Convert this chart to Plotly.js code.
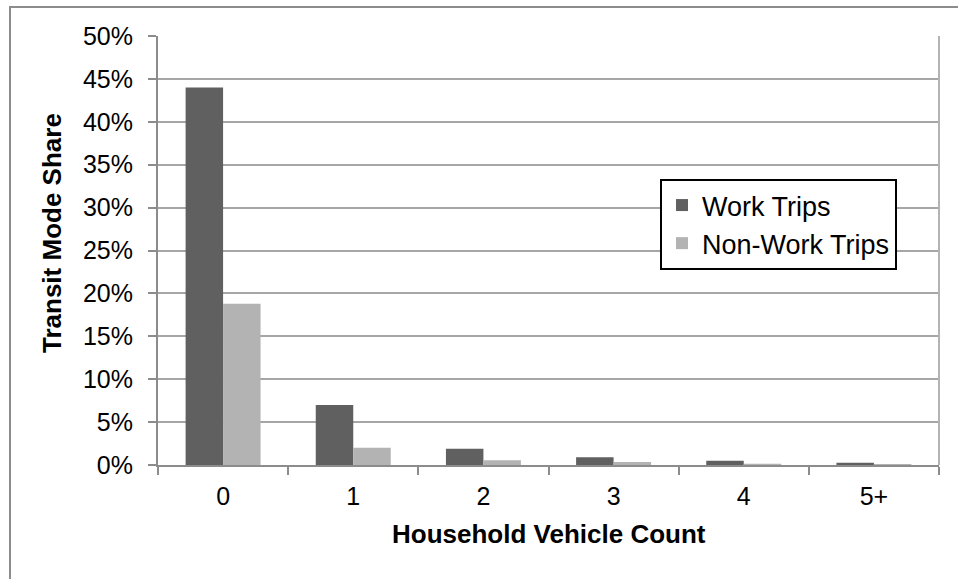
<!DOCTYPE html>
<html>
<head>
<meta charset="utf-8">
<script src="https://cdn.plot.ly/plotly-3.0.1.min.js"></script>
<style>html,body{margin:0;padding:0;background:#fff;}#chart{width:958px;height:579px;}</style>
</head>
<body>
<div id="chart"></div>
<script>
var categories = ["0", "1", "2", "3", "4", "5+"];
var workTrips = [44.0, 7.0, 1.9, 0.9, 0.5, 0.25];
var nonWorkTrips = [18.8, 2.0, 0.55, 0.35, 0.15, 0.12];
var seriesNames = ["Work Trips", "Non-Work Trips"];
var yTicks = [0, 5, 10, 15, 20, 25, 30, 35, 40, 45, 50];

var FONT = "Liberation Sans, Arial, sans-serif";

var traces = [
  {type: "bar", name: seriesNames[0], x: categories, y: workTrips,
   marker: {color: "#606060"}, hoverinfo: "none"},
  {type: "bar", name: seriesNames[1], x: categories, y: nonWorkTrips,
   marker: {color: "#b3b3b3"}, hoverinfo: "none"}
];

var layout = {
  width: 958, height: 579,
  margin: {l: 158, r: 19, t: 36, b: 114, pad: 0},
  paper_bgcolor: "#ffffff", plot_bgcolor: "#ffffff",
  font: {family: FONT, size: 25, color: "#000"},
  barmode: "group", bargap: 0.424, bargroupgap: 0,
  showlegend: true,
  legend: {x: (660 - 158) / 781, y: (465 - 179) / 429, xanchor: "left", yanchor: "top",
           bordercolor: "#000", borderwidth: 2, bgcolor: "#fff",
           font: {family: FONT, size: 27, color: "#000"},
           itemwidth: 30, tracegroupgap: 0},
  xaxis: {type: "category", tickson: "boundaries", ticks: "outside", ticklen: 8,
          tickcolor: "#8c8c8c", tickwidth: 2, showline: true, linecolor: "#8c8c8c",
          linewidth: 2, showgrid: false, zeroline: false, ticklabelstandoff: 8,
          tickfont: {family: FONT, size: 25, color: "#000"}, fixedrange: true},
  yaxis: {range: [0, 50], tickmode: "array", tickvals: yTicks,
          ticktext: yTicks.map(function(v){return v + "%";}),
          ticks: "outside", ticklen: 8, tickcolor: "#8c8c8c", tickwidth: 2,
          showline: true, linecolor: "#8c8c8c", linewidth: 2,
          showgrid: true, gridcolor: "#a6a6a6", gridwidth: 2, zeroline: false,
          ticklabelstandoff: 10,
          tickfont: {family: FONT, size: 25, color: "#000"}, fixedrange: true},
  annotations: [
    {text: "<b>Transit Mode Share</b>", xref: "paper", yref: "paper",
     x: (52 - 158) / 781, y: (465 - 233) / 429, xanchor: "center", yanchor: "middle",
     textangle: -90, showarrow: false, font: {family: FONT, size: 26, color: "#000"}},
    {text: "<b>Household Vehicle Count</b>", xref: "paper", yref: "paper",
     x: 0.5, y: (465 - 534) / 429, xanchor: "center", yanchor: "middle",
     showarrow: false, font: {family: FONT, size: 26, color: "#000"}}
  ],
  shapes: [
    {type: "line", xref: "paper", yref: "paper", x0: 1, x1: 1, y0: 0, y1: 1,
     line: {color: "#b4b4b4", width: 2}},
    {type: "rect", xref: "paper", yref: "paper",
     x0: (10 - 158) / 781, x1: 1.1, y0: -0.4, y1: (465 - 7) / 429,
     line: {color: "#8c8c8c", width: 2}, fillcolor: "rgba(0,0,0,0)", layer: "below"}
  ]
};

Plotly.newPlot("chart", traces, layout, {displayModeBar: false, staticPlot: true});
</script>
</body>
</html>
